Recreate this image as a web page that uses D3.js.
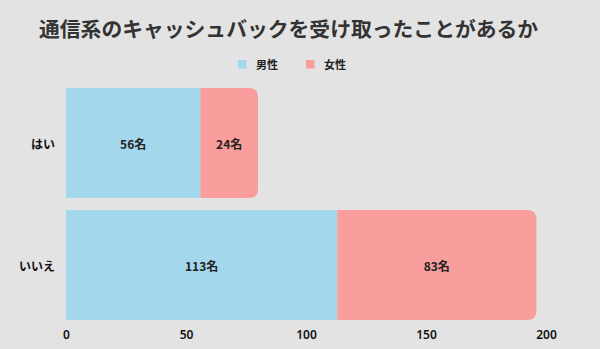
<!DOCTYPE html>
<html>
<head>
<meta charset="utf-8">
<script src="https://cdn.jsdelivr.net/npm/d3@7"></script>
<style>
  html, body { margin: 0; padding: 0; background: #e3e3e3; }
  svg { display: block; font-family: "Noto Sans CJK JP", "Noto Sans", sans-serif; }
</style>
</head>
<body>
<svg id="chart" width="600" height="349"></svg>
<script>
const categories = ["はい", "いいえ"];
const seriesNames = ["男性", "女性"];
const male = [56, 113];
const female = [24, 83];
const xTicks = [0, 50, 100, 150, 200];
const colors = ["#a3d8ec", "#f99d9d"];

const svg = d3.select("#chart");

const x = d3.scaleLinear().domain([0, 200]).range([66, 546]);
const y = d3.scaleBand().domain(categories).range([82, 326]).paddingInner(0.1).paddingOuter(0.05);

// Title
svg.append("text")
  .attr("x", 39).attr("y", 37)
  .attr("font-size", 20.8).attr("font-weight", 700).attr("fill", "#333")
  .text("通信系のキャッシュバックを受け取ったことがあるか");

// Legend
const legend = svg.append("g");
const legendX = [238, 306];
seriesNames.forEach((name, i) => {
  legend.append("rect")
    .attr("x", legendX[i]).attr("y", 60).attr("width", 8.5).attr("height", 8.5)
    .attr("fill", colors[i]);
  legend.append("text")
    .attr("x", legendX[i] + 18).attr("y", 68.5)
    .attr("font-size", 11).attr("font-weight", 700).attr("fill", "#222")
    .text(name);
});

// Stacked data
const rows = categories.map((c, i) => ({ cat: c, "男性": male[i], "女性": female[i] }));
const stack = d3.stack().keys(seriesNames)(rows);

// Rect with rounded right corners only
function roundRight(x0, y0, w, h, r) {
  r = Math.min(r, w, h / 2);
  return `M${x0},${y0}H${x0 + w - r}Q${x0 + w},${y0} ${x0 + w},${y0 + r}` +
         `V${y0 + h - r}Q${x0 + w},${y0 + h} ${x0 + w - r},${y0 + h}H${x0}Z`;
}

stack.forEach((layer, li) => {
  const last = li === stack.length - 1;
  layer.forEach((d, ri) => {
    const x0 = x(d[0]), x1 = x(d[1]);
    const y0 = y(categories[ri]), h = y.bandwidth();
    if (last) {
      svg.append("path").attr("d", roundRight(x0, y0, x1 - x0, h, 9)).attr("fill", colors[li]);
    } else {
      svg.append("rect").attr("x", x0).attr("y", y0).attr("width", x1 - x0).attr("height", h).attr("fill", colors[li]);
    }
    svg.append("text")
      .attr("x", (x0 + x1) / 2).attr("y", y0 + h / 2)
      .attr("text-anchor", "middle").attr("dominant-baseline", "central")
      .attr("font-size", 12).attr("font-weight", 700).attr("fill", "#222")
      .text((d[1] - d[0]) + "名");
  });
});

// Category labels
categories.forEach(c => {
  svg.append("text")
    .attr("x", 55).attr("y", y(c) + y.bandwidth() / 2)
    .attr("text-anchor", "end").attr("dominant-baseline", "central")
    .attr("font-size", 12).attr("font-weight", 700).attr("fill", "#111")
    .text(c);
});

// X axis
const xAxis = svg.append("g").attr("transform", "translate(0,322)")
  .call(d3.axisBottom(x).tickValues(xTicks).tickSize(0).tickPadding(8));
xAxis.select(".domain").remove();
xAxis.selectAll("text").attr("font-size", 12).attr("font-weight", 600).attr("fill", "#111")
  .attr("font-family", "\"Noto Sans\", sans-serif");
</script>
</body>
</html>
